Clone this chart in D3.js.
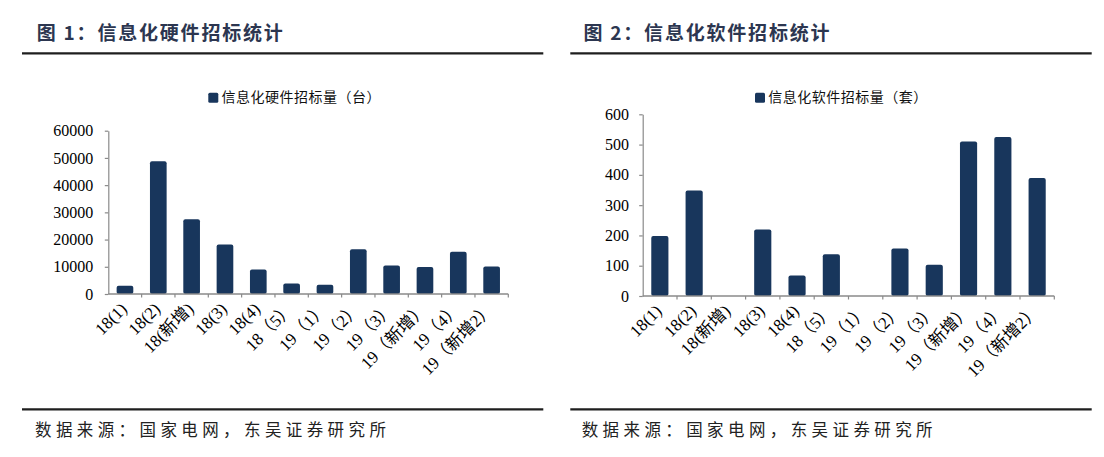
<!DOCTYPE html>
<html><head><meta charset="utf-8">
<script src="https://cdn.jsdelivr.net/npm/d3@7/dist/d3.min.js"></script>
<style>
html,body{margin:0;padding:0;background:#fff;}
svg{display:block;}
text{text-spacing-trim:space-all;}
</style>
</head><body>
<svg id="chart" width="1104" height="457"></svg>
<script>
const categories = ["18(1)","18(2)","18(新增)","18(3)","18(4)","18（5）","19（1）","19（2）","19（3）","19（新增）","19（4）","19（新增2）"];
const hardwareValues = [3000, 48800, 27500, 18200, 9000, 3900, 3400, 16400, 10500, 9900, 15500, 10100];
const softwareValues = [198, 348, null, 220, 68, 138, null, 157, 103, 510, 525, 390];
const hardwareTicks = [0, 10000, 20000, 30000, 40000, 50000, 60000];
const softwareTicks = [0, 100, 200, 300, 400, 500, 600];
const titles = ["图 1：信息化硬件招标统计", "图 2：信息化软件招标统计"];
const legends = ["信息化硬件招标量（台）", "信息化软件招标量（套）"];
const sourceText = "数据来源：国家电网，东吴证券研究所";

const svg = d3.select("#chart");
const BAR = "#18365c";
const AXIS = "#8a8a8a";
const CJK = "'Noto Sans CJK SC','Noto Sans',sans-serif";
const SERIF = "'Liberation Serif','Times New Roman','Noto Sans CJK SC',serif";

function panel(cfg) {
  const g = svg.append("g");
  // title
  g.append("text").attr("x", cfg.px + 36.7).attr("y", 39.5)
    .attr("font-family", CJK).attr("font-weight", "bold").attr("font-size", 19)
    .attr("letter-spacing", 1.8).attr("fill", "#2c3650").text(cfg.title);
  // rules
  [53.3, 409.3].forEach(y => {
    g.append("line").attr("x1", cfg.lx1).attr("x2", cfg.lx2).attr("y1", y).attr("y2", y)
      .attr("stroke", "#1e1e1e").attr("stroke-width", 2.2);
  });
  // source
  g.append("text").attr("x", cfg.px + 35).attr("y", 436)
    .attr("font-family", CJK).attr("font-size", 16.5).attr("letter-spacing", 4.4)
    .attr("fill", "#222").text(sourceText);
  // legend
  g.append("rect").attr("x", cfg.px + 208.3).attr("y", 92.7).attr("width", 10).attr("height", 10)
    .attr("rx", 1.5).attr("fill", BAR);
  g.append("text").attr("x", cfg.px + 221.5).attr("y", 102)
    .attr("font-family", CJK).attr("font-size", 14).attr("letter-spacing", 0.5)
    .attr("fill", "#111").text(cfg.legend);

  const x = d3.scaleBand().domain(categories).range([cfg.x0, cfg.x1])
    .paddingInner(0.5).paddingOuter(0.25);
  const y = d3.scaleLinear().domain([0, d3.max(cfg.ticks)]).range([cfg.y0, cfg.yTop]);

  // bars
  const data = categories.map((c, i) => ({c, v: cfg.values[i]})).filter(d => d.v != null);
  g.selectAll("rect.bar").data(data).join("rect").attr("class", "bar")
    .attr("x", d => x(d.c)).attr("width", x.bandwidth())
    .attr("y", d => y(d.v)).attr("height", d => y(0) - y(d.v))
    .attr("rx", 2).attr("fill", BAR);

  // y axis
  const ya = g.append("g").attr("transform", `translate(${cfg.x0},0)`)
    .call(d3.axisLeft(y).tickValues(cfg.ticks).tickSize(3.5).tickSizeOuter(0).tickPadding(cfg.tp).tickFormat(d3.format("d")));
  ya.select(".domain").attr("stroke", AXIS).attr("stroke-width", 1.2);
  ya.selectAll(".tick line").attr("stroke", AXIS).attr("stroke-width", 1.2);
  ya.selectAll(".tick text").attr("font-family", SERIF).attr("font-size", 16).attr("fill", "#000");

  // x axis
  const xa = g.append("g");
  xa.append("line").attr("x1", cfg.x0).attr("x2", cfg.x1).attr("y1", cfg.y0).attr("y2", cfg.y0)
    .attr("stroke", AXIS).attr("stroke-width", 1.4);
  const gapHalf = (x.step() - x.bandwidth()) / 2;
  const bounds = categories.map(c => x(c) - gapHalf).concat([x(categories[categories.length - 1]) + x.bandwidth() + gapHalf]);
  xa.selectAll("line.tk").data(bounds.slice(1)).join("line").attr("class", "tk")
    .attr("x1", d => d).attr("x2", d => d).attr("y1", cfg.y0).attr("y2", cfg.y0 + 3.5)
    .attr("stroke", AXIS).attr("stroke-width", 1.2);
  xa.selectAll("text").data(categories).join("text")
    .attr("transform", d => `translate(${x(d) + x.bandwidth() / 2 + 3},${cfg.y0 + 16}) rotate(-45)`)
    .attr("text-anchor", "end")
    .attr("font-family", SERIF).attr("font-size", 17).attr("fill", "#000")
    .text(d => d);
}

panel({px: 0, lx1: 22, lx2: 543.3, title: titles[0], legend: legends[0],
  values: hardwareValues, ticks: hardwareTicks,
  x0: 108.3, x1: 508.3, y0: 294, yTop: 130.7, tp: 11.5});
panel({px: 546.7, lx1: 570.3, lx2: 1091.7, title: titles[1], legend: legends[1],
  values: softwareValues, ticks: softwareTicks,
  x0: 642.7, x1: 1054.3, y0: 296, yTop: 114.3, tp: 10.2});
</script>
</body></html>
